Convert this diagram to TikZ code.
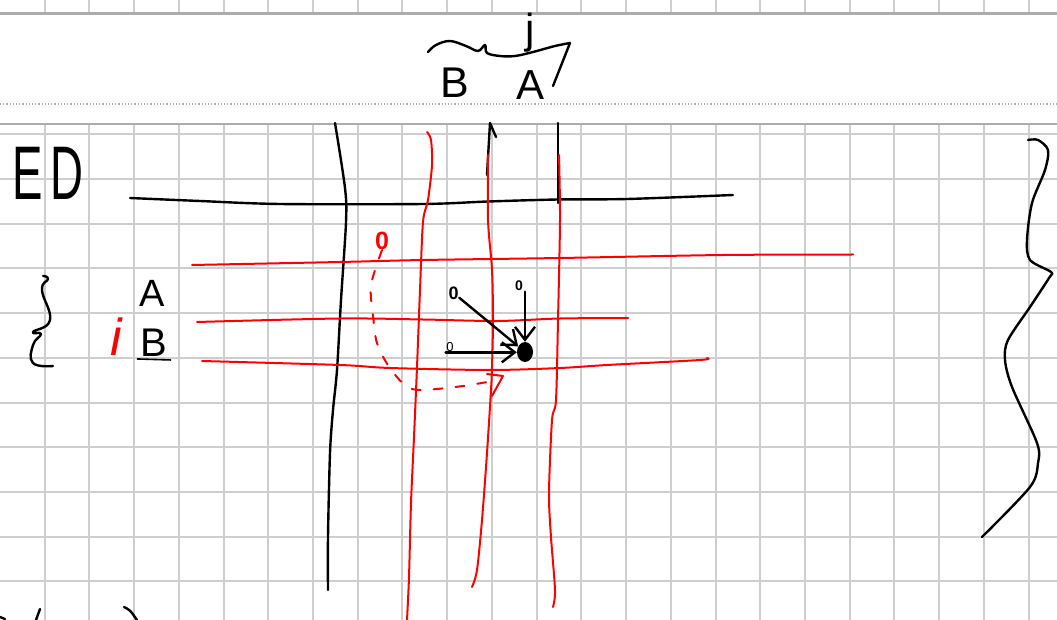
\documentclass[tikz,border=0pt]{standalone}
\usepackage{fontspec}
\setmainfont{Liberation Sans}
\usetikzlibrary{arrows.meta,positioning,shapes.geometric}
\definecolor{sheetgrey}{RGB}{206,206,206}
\definecolor{edgegrey}{RGB}{172,172,172}
\definecolor{inkred}{RGB}{255,0,0}

\begin{document}
\begin{tikzpicture}[x=1pt, y=-1pt,
    sheet/.style={draw=sheetgrey, line width=2pt},
    rim/.style={draw=edgegrey, line width=2.5pt},
    pen/.style={draw=black, line width=2.4pt, line cap=round, line join=round},
    redpen/.style={draw=inkred, line width=2pt, line cap=round, line join=round},
    letter/.style={inner sep=0pt, text=black},
    digit/.style={inner sep=0.5pt, font=\bfseries\fontsize{14}{14}\selectfont},
    barb/.style={-{Straight Barb[length=13pt,width=20pt]}}
]
    \useasboundingbox (0,0) rectangle (1057,620);
    \fill[white] (0,0) rectangle (1057,620);
    \foreach \k in {1,...,23} {
        \draw[sheet] (\k*44.72,0) -- (\k*44.72,13);
        \draw[sheet] (\k*44.72,124) -- (\k*44.72,620);
    }
    \foreach \k in {0,...,10}
        \draw[sheet] (0,134.2+\k*44.72) -- (1057,134.2+\k*44.72);
    \draw[rim] (0,13.5) -- (1057,13.5);
    \draw[rim] (0,124) -- (1057,124);
    \draw[edgegrey, line width=1.2pt, dash pattern=on 1.2pt off 2pt] (0,104) -- (1057,104);

    \node[letter, font=\fontsize{42}{42}\selectfont] (jidx) at (530,33) {j};
    \node[letter, font=\fontsize{43}{43}\selectfont] (topB) at (455,83) {B};
    \node[letter, font=\fontsize{42}{42}\selectfont] (topA) at (530,85) {A};
    \draw[pen] plot[smooth, tension=0.6] coordinates {(428,52) (436,45) (450,41) (466,46) (478,51) (485,45) (487,53) (500,56) (515,56) (533,52) (555,46) (570,43)} -- (553,86);

    \node[letter, font=\fontsize{76}{76}\selectfont] (ed) at (48,173) {\scalebox{0.6}[1]{E\,D}};
    \draw[pen] plot[smooth] coordinates {(130,198) (200,201) (280,204) (423,204) (488,201.5) (558,199.5) (627,199) (733,195)};

    \draw[pen] plot[smooth] coordinates {(335,123) (345,188) (346,222) (341,300) (337,370) (333,410) (330,453) (328,537) (328,590)};
    \draw[pen] (487,175) -- (490,123) -- (496,137);
    \draw[pen] (558,123) -- (558,203);

    \draw[redpen] plot[smooth] coordinates {(427,132) (431,140) (432,165) (428,200) (423,222) (420,290) (417,367) (414,437) (411,503) (409,577) (407,620)};
    \draw[redpen] plot[smooth] coordinates {(488,155) (488,220) (492,270) (493,320) (492,367) (491,390) (487,453) (482,520) (477,570) (472,587)};
    \draw[redpen] plot[smooth] coordinates {(559,155) (560,220) (558,320) (556,400) (552,420) (549,493) (551,537) (555,590) (553,607)};
    \draw[redpen] plot[smooth] coordinates {(192,265) (340,262) (423,260) (560,258) (723,255) (853,254.5)};
    \draw[redpen] plot[smooth] coordinates {(197,322) (340,318.5) (423,319.5) (497,321) (560,318.5) (628,318)};
    \draw[redpen] plot[smooth] coordinates {(202,361) (340,365) (390,368) (490,370) (560,368) (607,365) (700,360) (707,358)};

    \node[letter, text=inkred, font=\bfseries\fontsize{25}{25}\selectfont] (rzero) at (382,241) {0};
    \coordinate (rtip) at (493,381);
    \draw[redpen, dash pattern=on 9pt off 13pt] plot[smooth] coordinates {(rzero.south) (371,285) (373,315) (377,343) (390,368) (412,389) (455,387) (rtip)};
    \draw[redpen] (rtip) ++(-6,-7) -- ++(16,2) -- ++(-11,20);

    \node[ellipse, fill=black, minimum width=16pt, minimum height=20pt, inner sep=0pt] (goal) at (525,352) {};
    \node[digit, font=\bfseries\fontsize{18}{18}\selectfont] (zdiag) at (453.5,293) {0};
    \node[digit] (ztop) at (519,286) {0};
    \node[digit, font=\fontsize{13}{13}\selectfont] (zleft) at (450,347) {0};
    \draw[pen, barb] (zdiag) -- (goal);
    \draw[pen, barb] (ztop.south -| goal.north) -- (goal.north);
    \draw[pen, barb] (zleft.south west) -- (zleft.south west -| goal.west);

    \draw[pen] plot[smooth, tension=0.8] coordinates {(43,276) (48,279) (42,290) (50,320) (33,332) (41,334) (33,345) (33,363) (53,366)};
    \node[letter, font=\fontsize{38}{38}\selectfont] (sideA) at (152,293) {A};
    \node[letter, font=\fontsize{40}{40}\selectfont] (sideB) at (154,343) {B};
    \draw[pen, line width=1.6pt] ([xshift=-3pt,yshift=-2pt]sideB.south west) -- ([xshift=3pt,yshift=-3pt]sideB.south east);
    \node[letter, text=inkred, font=\itshape\fontsize{52}{52}\selectfont] (ridx) at (116,337) {i};

    \draw[pen] plot[smooth] coordinates {(1028,140) (1038,140) (1048,150) (1045,170) (1032,203) (1027,240) (1030,260) (1051,272) (1049,278) (1030,307) (1008,340) (1005,360) (1012,387) (1037,443) (1038,463) (1030,487) (982,537)};

    \draw[pen] (0,617) -- (5,619);
    \draw[pen] (40,609) -- (36,620);
    \draw[pen] (124,607) .. controls (130,610) .. (137,620);
\end{tikzpicture}
\end{document}
